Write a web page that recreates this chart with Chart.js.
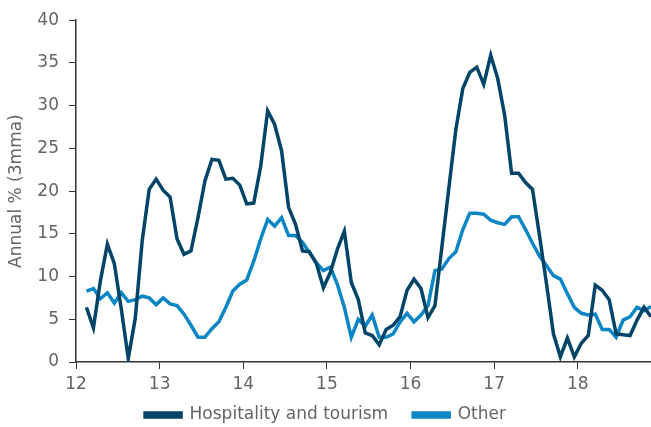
<!DOCTYPE html>
<html>
<head>
<meta charset="utf-8">
<script src="https://cdn.jsdelivr.net/npm/chart.js@4"></script>
<style>
  html, body { margin: 0; padding: 0; background: #fff; }
  #wrap { width: 651px; height: 427px; }
</style>
</head>
<body>
<div id="wrap"><canvas id="hospChart"></canvas></div>
<script>
// monthly readings, first one early in year 12
const firstX = 12.125;
const hospitality = [
    6.4, 4.0, 9.5, 13.8, 11.5, 6.2, 0.4, 5.1, 14.2, 20.2, 21.4, 20.1,
    19.3, 14.4, 12.6, 13.0, 16.9, 21.2, 23.7, 23.6, 21.4, 21.5, 20.7, 18.5,
    18.6, 22.9, 29.4, 27.8, 24.7, 18.1, 16.1, 13.0, 12.9, 11.5, 8.7, 10.5,
    13.2, 15.3, 9.3, 7.3, 3.4, 3.1, 2.0, 3.8, 4.3, 5.3, 8.4, 9.7,
    8.6, 5.2, 6.6, 13.5, 20.4, 27.2, 32.0, 33.9, 34.5, 32.5, 35.9, 33.2,
    28.9, 22.1, 22.1, 21.0, 20.2, 14.8, 9.2, 3.3, 0.6, 2.8, 0.6, 2.2,
    3.1, 9.0, 8.4, 7.3, 3.3, 3.2, 3.1, 4.9, 6.4, 5.3
];
const other = [
    8.3, 8.6, 7.4, 8.1, 6.9, 8.1, 7.1, 7.3, 7.7, 7.5, 6.7, 7.5,
    6.8, 6.6, 5.6, 4.3, 2.9, 2.9, 3.9, 4.7, 6.4, 8.3, 9.1, 9.6,
    11.8, 14.4, 16.7, 15.9, 16.9, 14.8, 14.8, 14.0, 12.8, 11.6, 10.7, 11.1,
    9.1, 6.4, 2.9, 5.0, 4.2, 5.5, 2.9, 2.9, 3.3, 4.7, 5.7, 4.7,
    5.5, 6.6, 10.7, 10.9, 12.1, 12.9, 15.5, 17.4, 17.4, 17.3, 16.6, 16.3,
    16.1, 17.0, 17.0, 15.5, 13.9, 12.4, 11.3, 10.1, 9.7, 8.0, 6.4, 5.7,
    5.5, 5.6, 3.8, 3.8, 2.9, 4.9, 5.3, 6.4, 6.0, 6.5
];
const seriesNames = ['Hospitality and tourism', 'Other'];
const yTicks = [0, 5, 10, 15, 20, 25, 30, 35, 40];
const xTicks = [12, 13, 14, 15, 16, 17, 18];

function toPoints(values) {
    return values.map((v, i) => ({x: firstX + i / 12, y: v}));
}

const lastX = firstX + (hospitality.length - 1) / 12;
const axisColor = '#333333';
const textColor = '#646464';
const font = {family: 'DejaVu Sans', size: 17};

const data = {
    datasets: [{
        label: seriesNames[0],
        data: toPoints(hospitality),
        borderColor: '#004468',
        backgroundColor: '#004468',
        borderWidth: 3.5,
    },
    {
        label: seriesNames[1],
        data: toPoints(other),
        borderColor: '#0a86c4',
        backgroundColor: '#0a86c4',
        borderWidth: 3.5,
    }]
};

const config = {
    type: 'line',
    data,
    options: {
        responsive: true,
        maintainAspectRatio: false,
        animation: false,
        devicePixelRatio: 1,
        layout: {padding: {top: 16, right: 0, left: 0, bottom: -6.5}},
        elements: {point: {radius: 0}, line: {tension: 0, borderJoinStyle: 'miter'}},
        scales: {
            x: {
                type: 'linear',
                min: 12,
                max: lastX,
                grid: {display: true, drawOnChartArea: false, drawTicks: true, tickLength: 7, color: axisColor},
                border: {display: true, color: axisColor, width: 1.5},
                afterBuildTicks: s => { s.ticks = xTicks.map(v => ({value: v})); },
                // keep the axis box short so the legend sits close, and let labels spill below it
                afterFit: s => { s.height = 19.5; s._computeLabelArea = () => null; },
                ticks: {color: textColor, font, padding: 5, maxRotation: 0}
            },
            y: {
                min: 0,
                max: 40,
                grid: {display: true, drawOnChartArea: false, drawTicks: true, tickLength: 7, color: axisColor},
                border: {display: true, color: axisColor, width: 1.5},
                afterBuildTicks: s => { s.ticks = yTicks.map(v => ({value: v})); },
                afterFit: s => { s.width = 76; },
                ticks: {color: textColor, font, padding: 10},
                title: {display: true, text: 'Annual % (3mma)', color: textColor, font, padding: {top: 6, bottom: 0}}
            }
        },
        plugins: {
            legend: {
                position: 'bottom',
                labels: {color: textColor, font, boxWidth: 36, boxHeight: 4, padding: 25}
            },
            tooltip: {enabled: false}
        }
    }
};

const myChart = new Chart(document.getElementById('hospChart'), config);
</script>
</body>
</html>
